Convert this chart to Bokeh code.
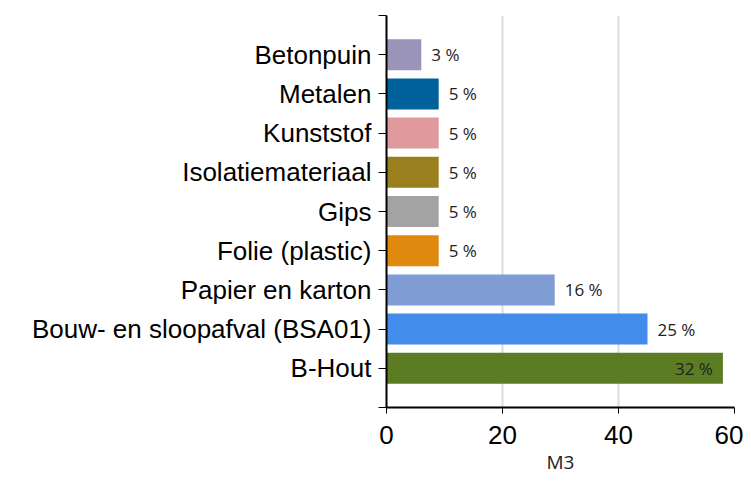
from bokeh.plotting import figure
from bokeh.models import ColumnDataSource, FixedTicker
from bokeh.core.properties import value
from bokeh.embed import file_html
from bokeh.resources import INLINE

# Data (top to bottom as shown)
categories = ["Betonpuin", "Metalen", "Kunststof", "Isolatiemateriaal", "Gips",
              "Folie (plastic)", "Papier en karton", "Bouw- en sloopafval (BSA01)", "B-Hout"]
volumes_m3 = [6, 9, 9, 9, 9, 9, 29, 45, 58]
pct_labels = ["3 %", "5 %", "5 %", "5 %", "5 %", "5 %", "16 %", "25 %", "32 %"]
label_inside = [False, False, False, False, False, False, False, False, True]
colors = ["#9a94b9", "#00629b", "#e0999c", "#9a7f1f", "#a3a3a3",
          "#df890e", "#7f9cd4", "#428cec", "#5c7c24"]
x_ticks = [0, 20, 40, 60]

n = len(categories)
positions = [n - i for i in range(n)]  # top category highest

src = ColumnDataSource(dict(y=positions, v=volumes_m3, c=colors, lab=pct_labels))
out_idx = [i for i in range(n) if not label_inside[i]]
in_idx = [i for i in range(n) if label_inside[i]]
src_out = ColumnDataSource(dict(y=[positions[i] for i in out_idx],
                                v=[volumes_m3[i] for i in out_idx],
                                lab=[pct_labels[i] for i in out_idx]))
src_in = ColumnDataSource(dict(y=[positions[i] for i in in_idx],
                               v=[volumes_m3[i] for i in in_idx],
                               lab=[pct_labels[i] for i in in_idx]))

p = figure(width=743, height=479, x_range=(0, 60), y_range=(0, n + 1),
           output_backend="svg", toolbar_location=None,
           min_border_left=386, min_border_right=9, min_border_top=15, min_border_bottom=72)
p.outline_line_color = None
p.background_fill_color = "white"

p.hbar(y="y", left=0, right="v", height=0.79, fill_color="c", line_color=None, source=src)

p.text(x="v", y="y", text="lab", source=src_out, x_offset=10, text_align="left",
       text_baseline="middle", text_font=value("Open Sans"), text_font_size="17px",
       text_color="#222222")
p.text(x="v", y="y", text="lab", source=src_in, x_offset=-10, text_align="right",
       text_baseline="middle", text_font=value("Open Sans"), text_font_size="17px",
       text_color="#222222")

# Grid
p.ygrid.grid_line_color = None
p.xgrid.ticker = FixedTicker(ticks=x_ticks)
p.xgrid.grid_line_color = "#dcdcdc"
p.xgrid.grid_line_width = 2

# X axis
p.xaxis.ticker = FixedTicker(ticks=x_ticks)
p.xaxis.axis_label = "M3"
p.xaxis.axis_label_text_font = "Open Sans"
p.xaxis.axis_label_text_font_size = "19px"
p.xaxis.axis_label_text_font_style = "normal"
p.xaxis.axis_label_text_color = "#222222"
p.xaxis.axis_label_standoff = 2
p.xaxis.major_label_text_font = "Liberation Sans"
p.xaxis.major_label_text_font_size = "26px"
p.xaxis.major_label_text_color = "black"
p.xaxis.major_label_standoff = 12
p.xaxis.axis_line_color = "black"
p.xaxis.axis_line_width = 2
p.xaxis.major_tick_in = 0
p.xaxis.major_tick_out = 6
p.xaxis.major_tick_line_color = "black"
p.xaxis.minor_tick_line_color = None

# Y axis
p.yaxis.ticker = FixedTicker(ticks=list(range(0, n + 2)))
overrides = {0: "", n + 1: ""}
for pos, cat in zip(positions, categories):
    overrides[pos] = cat
p.yaxis.major_label_overrides = overrides
p.yaxis.major_label_text_font = "Liberation Sans"
p.yaxis.major_label_text_font_size = "26px"
p.yaxis.major_label_text_color = "black"
p.yaxis.major_label_standoff = 7
p.yaxis.axis_line_color = "black"
p.yaxis.axis_line_width = 2
p.yaxis.major_tick_in = 0
p.yaxis.major_tick_out = 8
p.yaxis.major_tick_line_color = "black"
p.yaxis.minor_tick_line_color = None

html = file_html(p, INLINE)
open("out.html", "w").write(html)
